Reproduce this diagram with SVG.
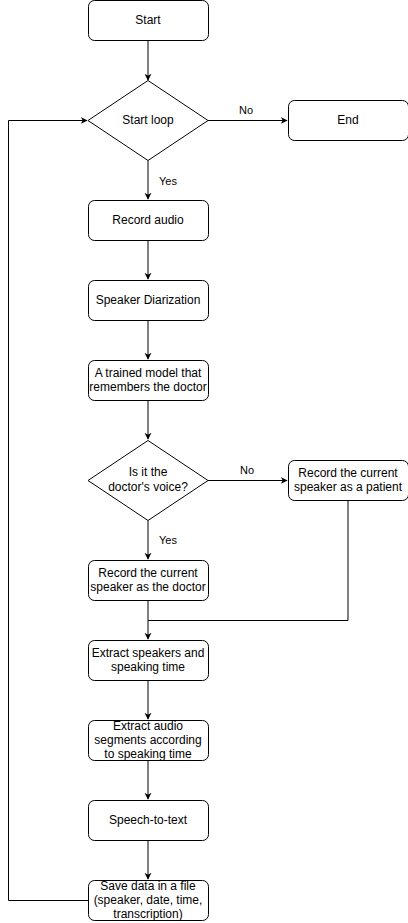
<svg xmlns="http://www.w3.org/2000/svg" width="408" height="923" viewBox="0 0 408 923">
<style>
.n{fill:#fff;stroke:#000;stroke-width:1}
.t{font-family:"Liberation Sans",Arial,sans-serif;font-size:12px;fill:#000;text-anchor:middle}
.l{font-family:"Liberation Sans",Arial,sans-serif;font-size:11px;fill:#000;text-anchor:middle}
.c{fill:none;stroke:#000;stroke-width:1;marker-end:url(#a)}
.p{fill:none;stroke:#000;stroke-width:1}
</style>
<defs>
<marker id="a" viewBox="0 0 10 10" refX="9" refY="5" markerWidth="7" markerHeight="7" orient="auto" markerUnits="userSpaceOnUse">
<path d="M0,0 L10,5 L0,10 L3,5 Z" fill="#000"/>
</marker>
</defs>
<g id="connectors">
<path class="c" d="M148,40.5 V80"/>
<path class="c" d="M208,120.5 H287"/>
<path class="c" d="M148,160.5 V199"/>
<path class="c" d="M148,240.5 V279"/>
<path class="c" d="M148,320.5 V359"/>
<path class="c" d="M148,400.5 V439"/>
<path class="c" d="M208,480.5 H287"/>
<path class="c" d="M148,520.5 V559"/>
<path class="p" d="M148,600.5 V620.5 H348 V500.5"/>
<path class="c" d="M148,620.5 V639"/>
<path class="c" d="M148,680.5 V719"/>
<path class="c" d="M148,760.5 V799"/>
<path class="c" d="M148,840.5 V879"/>
<path class="c" d="M88,900.5 H8.5 V120.5 H87"/>
<text class="l" x="246" y="114">No</text>
<text class="l" x="168" y="185">Yes</text>
<text class="l" x="247" y="474">No</text>
<text class="l" x="168" y="544">Yes</text>
</g>
<g id="start"><rect class="n" x="88.5" y="0.5" width="120" height="40" rx="6"/><text class="t" x="148" y="24">Start</text></g>
<g id="startloop"><path class="n" d="M148,80.5 L208,120.5 L148,160.5 L88,120.5 Z"/><text class="t" x="148" y="124">Start loop</text></g>
<g id="end"><rect class="n" x="288.5" y="100.5" width="120" height="40" rx="6"/><text class="t" x="348" y="124">End</text></g>
<g id="record"><rect class="n" x="88.5" y="200.5" width="120" height="40" rx="6"/><text class="t" x="148" y="224">Record audio</text></g>
<g id="diar"><rect class="n" x="88.5" y="280.5" width="120" height="40" rx="6"/><text class="t" x="148" y="304">Speaker Diarization</text></g>
<g id="model"><rect class="n" x="88.5" y="360.5" width="120" height="40" rx="6"/><text class="t" x="148" y="377">A trained model that</text><text class="t" x="148" y="391">remembers the doctor</text></g>
<g id="voice"><path class="n" d="M148,440.5 L208,480.5 L148,520.5 L88,480.5 Z"/><text class="t" x="148" y="476">Is it the</text><text class="t" x="148" y="490.5">doctor's voice?</text></g>
<g id="patient"><rect class="n" x="288.5" y="460.5" width="120" height="40" rx="6"/><text class="t" x="348" y="477">Record the current</text><text class="t" x="348" y="491">speaker as a patient</text></g>
<g id="doctor"><rect class="n" x="88.5" y="560.5" width="120" height="40" rx="6"/><text class="t" x="148" y="577">Record the current</text><text class="t" x="148" y="591">speaker as the doctor</text></g>
<g id="extract"><rect class="n" x="88.5" y="640.5" width="120" height="40" rx="6"/><text class="t" x="148" y="657">Extract speakers and</text><text class="t" x="148" y="671">speaking time</text></g>
<g id="segments"><rect class="n" x="88.5" y="720.5" width="120" height="40" rx="6"/><text class="t" x="148" y="729.5">Extract audio</text><text class="t" x="148" y="743.5">segments according</text><text class="t" x="148" y="757.5">to speaking time</text></g>
<g id="stt"><rect class="n" x="88.5" y="800.5" width="120" height="40" rx="6"/><text class="t" x="148" y="824">Speech-to-text</text></g>
<g id="save"><rect class="n" x="88.5" y="880.5" width="120" height="40" rx="6"/><text class="t" x="148" y="889.5">Save data in a file</text><text class="t" x="148" y="903.5">(speaker, date, time,</text><text class="t" x="148" y="917.5">transcription)</text></g>
</svg>
